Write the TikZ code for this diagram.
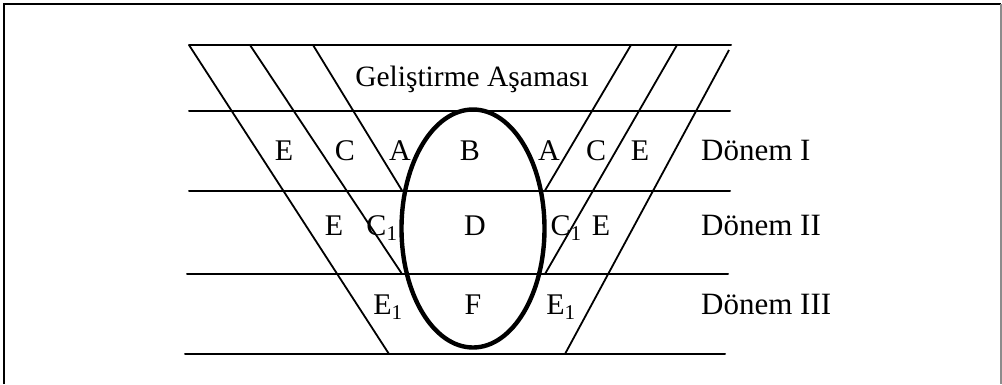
\documentclass[tikz,border=0pt]{standalone}
\usepackage{fontspec}
\setmainfont{Liberation Serif}
\usetikzlibrary{positioning,calc}

\begin{document}
\begin{tikzpicture}[
    x=1pt, y=-1pt,
    rule/.style={line width=2pt, line cap=round},
    slant/.style={line width=1.8pt},
    period/.style={line width=4.4pt},
    letter/.style={anchor=base, inner sep=0pt, font=\fontsize{30}{36}\selectfont},
    rowlabel/.style={anchor=base west, inner sep=0pt, font=\fontsize{31}{37}\selectfont}
]
\useasboundingbox (0,0) rectangle (1002,384);

% Frame
\draw[line width=2pt] (4,384) -- (4,4) -- (1001,4);
\draw[line width=2pt, black!45] (1001,4) -- (1001,384);

% Horizontal lines
\draw[rule] (189,45) -- (731,45);
\draw[rule] (189,110.5) -- (730,110.5);
\draw[rule] (189,190.5) -- (730,190.5);
\draw[rule] (187,274) -- (728,274);
\draw[rule] (185,354) -- (725,354);

% Left slanted lines
\draw[slant] (189,45) -- (389,354);
\draw[slant] (250,45) -- (402,274);
\draw[slant] (313,45) -- (402,190.5);

% Right slanted lines
\draw[slant] (631,45) -- (545,190.5);
\draw[slant] (677,45) -- (545,274);
\draw[slant] (729,50) -- (565,354);

% Core ellipse
\draw[period] (473,228.5) ellipse [x radius=71.5, y radius=119];

% Title
\node[letter, font=\fontsize{29.5}{35}\selectfont] (title) at (472,86) {Geliştirme Aşaması};

% Period I
\node[letter] (eIl) at (284,160.5) {E};
\node[letter] (cIl) at (345,160.5) {C};
\node[letter] (aIl) at (400,160.5) {A};
\node[letter] (b)   at (470,160.5) {B};
\node[letter] (aIr) at (549,160.5) {A};
\node[letter] (cIr) at (596,160.5) {C};
\node[letter] (eIr) at (640,160.5) {E};
\node[rowlabel] (donemI) at (701,160.5) {Dönem I};

% Period II
\node[letter] (eIIl) at (334,235) {E};
\node[letter] (cIIl) at (382,235) {C\textsubscript{1}};
\node[letter] (d)    at (475,235) {D};
\node[letter] (cIIr) at (566,235) {C\textsubscript{1}};
\node[letter] (eIIr) at (601,235) {E};
\node[rowlabel] (donemII) at (701,235) {Dönem II};

% Period III
\node[letter] (eIIIl) at (388,314) {E\textsubscript{1}};
\node[letter] (f)     at (473,314) {F};
\node[letter] (eIIIr) at (561,314) {E\textsubscript{1}};
\node[rowlabel] (donemIII) at (701,314) {Dönem III};

\end{tikzpicture}
\end{document}
